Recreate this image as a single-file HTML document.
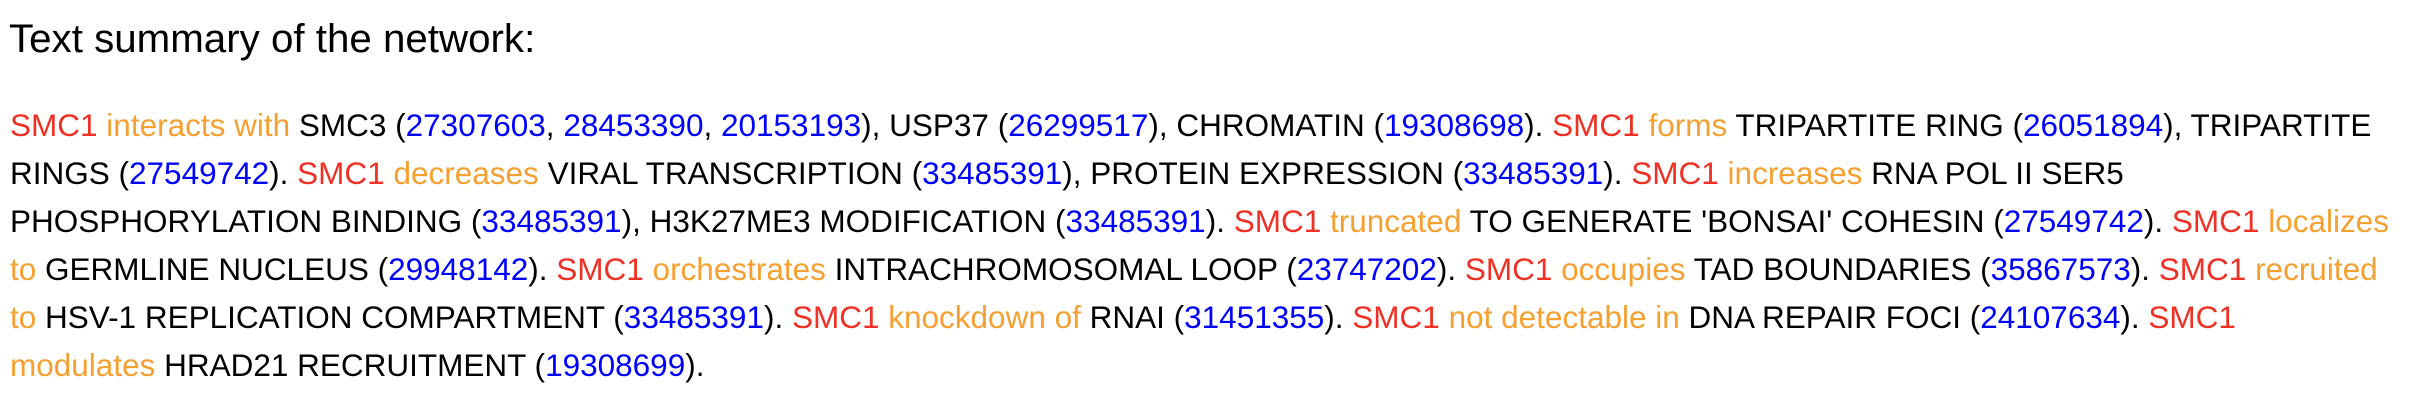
<!DOCTYPE html>
<html><head><meta charset="utf-8"><style>
html,body{margin:0;padding:0;background:#fff;width:2418px;height:404px;overflow:hidden}
body{font-family:"Liberation Sans",Arial,sans-serif;color:#000}
h1{position:absolute;left:9px;top:16px;margin:0;font-weight:normal;font-size:40.3px;line-height:46px}
#summary{position:absolute;left:10px;top:101px;font-size:31.5px;line-height:48px;white-space:nowrap}
.g{color:#ee3124}.v{color:#f5a031}.p{color:#0000ff;text-decoration:none}
</style></head><body>
<h1>Text summary of the network:</h1>
<div id="summary">
<span class="g">SMC1</span> <span class="v">interacts with</span> SMC3 (<a class="p">27307603</a>, <a class="p">28453390</a>, <a class="p">20153193</a>), USP37 (<a class="p">26299517</a>), CHROMATIN (<a class="p">19308698</a>). <span class="g">SMC1</span> <span class="v">forms</span> TRIPARTITE RING (<a class="p">26051894</a>), TRIPARTITE<br>
RINGS (<a class="p">27549742</a>). <span class="g">SMC1</span> <span class="v">decreases</span> VIRAL TRANSCRIPTION (<a class="p">33485391</a>), PROTEIN EXPRESSION (<a class="p">33485391</a>). <span class="g">SMC1</span> <span class="v">increases</span> RNA POL II SER5<br>
PHOSPHORYLATION BINDING (<a class="p">33485391</a>), H3K27ME3 MODIFICATION (<a class="p">33485391</a>). <span class="g">SMC1</span> <span class="v">truncated</span> TO GENERATE 'BONSAI' COHESIN (<a class="p">27549742</a>). <span class="g">SMC1</span> <span class="v">localizes</span><br>
<span class="v">to</span> GERMLINE NUCLEUS (<a class="p">29948142</a>). <span class="g">SMC1</span> <span class="v">orchestrates</span> INTRACHROMOSOMAL LOOP (<a class="p">23747202</a>). <span class="g">SMC1</span> <span class="v">occupies</span> TAD BOUNDARIES (<a class="p">35867573</a>). <span class="g">SMC1</span> <span class="v">recruited</span><br>
<span class="v">to</span> HSV-1 REPLICATION COMPARTMENT (<a class="p">33485391</a>). <span class="g">SMC1</span> <span class="v">knockdown of</span> RNAI (<a class="p">31451355</a>). <span class="g">SMC1</span> <span class="v">not detectable in</span> DNA REPAIR FOCI (<a class="p">24107634</a>). <span class="g">SMC1</span><br>
<span class="v">modulates</span> HRAD21 RECRUITMENT (<a class="p">19308699</a>).
</div>
</body></html>
